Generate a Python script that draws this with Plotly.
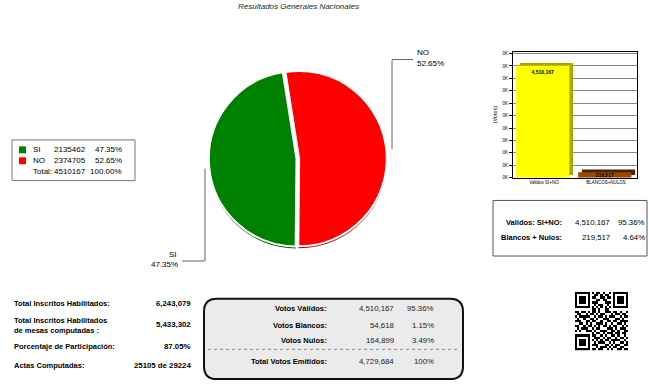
import plotly.graph_objects as go

W, H = 649, 392

# ---------------- data ----------------
title_text = "Resultados Generales Nacionales"
pie_labels = ["NO", "SI"]
pie_votes = [2374705, 2135462]
pie_pcts = ["52.65%", "47.35%"]
pie_colors = ["#ff0000", "#008000"]
pie_shadow = ["#b00000", "#005500"]
total_valid = 4510167

bar_cats = ["Validos SI+NO", "BLANCOS+NULOS"]
bar_vals = [4510167, 219517]
bar_pcts = ["95.36%", "4.64%"]
bar_colors = ["#ffff00", "#9a4a00"]
bar_side = ["#a8a800", "#4a2200"]
bar_ticks = [0, 500000, 1000000, 1500000, 2000000, 2500000, 3000000,
             3500000, 4000000, 4500000, 5000000]
bar_ticktext = ["0K"] * 11

summary_labels = ["Validos: SI+NO:", "Blancos + Nulos:"]

left_labels = ["Total Inscritos Habilitados:",
               "Total Inscritos Habilitados<br>de mesas computadas :",
               "Porcentaje de Participación:", "Actas Computadas:"]
left_values = ["6,243,079", "5,433,302", "87.05%", "25105 de 29224"]

box_labels = ["Votos Válidos:", "Votos Blancos:", "Votos Nulos:", "Total Votos Emitidos:"]
box_values = ["4,510,167", "54,618", "164,899", "4,729,684"]
box_pcts = ["95.36%", "1.15%", "3.49%", "100%"]

qr_rows = [
    "1111111" + "0" + "101101001" + "0" + "1111111",
    "1000001" + "0" + "011010110" + "0" + "1000001",
    "1011101" + "0" + "110011011" + "0" + "1011101",
    "1011101" + "0" + "001101100" + "0" + "1011101",
    "1011101" + "0" + "111000111" + "0" + "1011101",
    "1000001" + "0" + "010110010" + "0" + "1000001",
    "1111111" + "0" + "101010101" + "0" + "1111111",
    "00000000" + "110100110" + "00000000",
    "1101101011010011101101001",
    "0110010110101100010110110",
    "1011111001011010111001011",
    "0100100110100111000110100",
    "1110011011001001101101111",
    "0011010100111010010011010",
    "1100101101010110101100101",
    "0101110010110001110101110",
    "1010011101001110011010011",
    "00000000" + "101101011" + "10110110",
    "1111111" + "0" + "110010100" + "11010010",
    "1000001" + "0" + "011101011" + "00101101",
    "1011101" + "0" + "101010110" + "11110010",
    "1011101" + "0" + "010111001" + "01001101",
    "1011101" + "0" + "111000110" + "10110011",
    "1000001" + "0" + "001011101" + "01101100",
    "1111111" + "0" + "110110010" + "10011011",
]
qr_z = [[int(c) for c in r[:25].ljust(25, "0")] for r in qr_rows]

# ---------------- helpers ----------------
FONT = "Arial, Liberation Sans, sans-serif"


def px(x):
    return x / W


def py(y):
    return 1 - y / H


annotations = []
shapes = []


def ann(x, y, text, anchor="left", size=7.5, bold=False, italic=False, color="#000"):
    if bold:
        text = "<b>" + text + "</b>"
    if italic:
        text = "<i>" + text + "</i>"
    annotations.append(dict(x=px(x), y=py(y), xref="paper", yref="paper", text=text,
                            showarrow=False, xanchor=anchor, yanchor="middle",
                            align=anchor if anchor != "center" else "center",
                            font=dict(family=FONT, size=size, color=color)))


def line(x0, y0, x1, y1, color="#666", width=1, dash="solid"):
    shapes.append(dict(type="line", xref="paper", yref="paper", x0=px(x0), y0=py(y0),
                       x1=px(x1), y1=py(y1), line=dict(color=color, width=width, dash=dash)))


def rect(x0, y0, x1, y1, fill=None, color="#777", width=1):
    shapes.append(dict(type="rect", xref="paper", yref="paper", x0=px(x0), y0=py(y0),
                       x1=px(x1), y1=py(y1), fillcolor=fill or "rgba(0,0,0,0)",
                       line=dict(color=color, width=width), layer="below"))


fig = go.Figure()

# ---------------- pie ----------------
pie_dom_x = [px(205.5), px(387.5)]
fig.add_trace(go.Pie(labels=pie_labels, values=pie_votes, sort=False, direction="clockwise",
                     rotation=-9, pull=[0.03, 0], textinfo="none", hoverinfo="skip",
                     marker=dict(colors=pie_shadow, line=dict(color="white", width=0)),
                     domain=dict(x=pie_dom_x, y=[py(253), py(71)]), showlegend=False))
fig.add_trace(go.Pie(labels=pie_labels, values=pie_votes, sort=False, direction="clockwise",
                     rotation=-9, pull=[0.03, 0], textinfo="none", hoverinfo="label+value",
                     marker=dict(colors=pie_colors, line=dict(color="white", width=2)),
                     domain=dict(x=pie_dom_x, y=[py(251), py(69)]), showlegend=False))

# leader lines
line(392, 150, 392, 60)
line(392, 60, 413, 60)
ann(415, 53, pie_labels[0], size=8)
ann(415, 64, pie_pcts[0], size=8)
line(205, 170, 205, 263)
line(205, 263, 182, 263)
ann(179, 256, pie_labels[1], anchor="right", size=8)
ann(180, 267, pie_pcts[1], anchor="right", size=8)

# ---------------- legend box ----------------
rect(12, 141, 135, 182, color="#777")
legend_rows = [(1, 151), (0, 162)]
for idx, yy in legend_rows:
    shapes.append(dict(type="rect", xref="paper", yref="paper", x0=px(19), x1=px(26),
                       y0=py(yy + 3.5), y1=py(yy - 3.5), fillcolor=pie_colors[idx],
                       line=dict(width=0)))
    ann(31, yy, pie_labels[idx], size=8)
    ann(88, yy, str(pie_votes[idx]), anchor="right", size=8)
    ann(124, yy, pie_pcts[idx], anchor="right", size=8)
ann(31, 173, "Total:", size=8)
ann(88, 173, str(total_valid), anchor="right", size=8)
ann(124, 173, "100.00%", anchor="right", size=8)

# ---------------- bar chart ----------------
ymax = 5080000
depth = 110000
fig.add_trace(go.Bar(x=bar_cats, y=bar_vals, base=[depth, depth], width=0.86,
                     offset=-0.39, marker=dict(color=bar_side, line=dict(width=0)),
                     xaxis="x2", yaxis="y2", hoverinfo="skip", showlegend=False))
fig.add_trace(go.Bar(x=bar_cats, y=bar_vals, width=0.86, offset=-0.45,
                     marker=dict(color=bar_colors, line=dict(width=0)),
                     text=[f"{v:,}" for v in bar_vals], textposition="inside",
                     insidetextanchor="end", constraintext="none",
                     textfont=dict(family=FONT, size=5, color="#000"),
                     texttemplate="<b>%{text}</b>",
                     xaxis="x2", yaxis="y2", showlegend=False))

# ---------------- summary box ----------------
rect(493, 202, 647, 258, color="#555")
for i, yy in enumerate([224, 239]):
    ann(564, yy, summary_labels[i], anchor="right", size=7.5, bold=True)
    ann(612, yy, f"{bar_vals[i]:,}", anchor="right", size=7.8)
    ann(647, yy, bar_pcts[i], anchor="right", size=7.8)

# ---------------- bottom-left text ----------------
left_y = [306, 327, 349, 368]
for i, yy in enumerate(left_y):
    if i == 1:
        ann(12, 323, "Total Inscritos Habilitados", size=7.5, bold=True)
        ann(12, 333, "de mesas computadas :", size=7.5, bold=True)
    else:
        ann(12, yy, left_labels[i], size=7.5, bold=True)
    ann(193, yy, left_values[i], anchor="right", size=7.8, bold=True)

# ---------------- rounded votes box ----------------
x0, y0, x1, y1, r = px(204), py(301), px(463), py(382), 13
rx, ry = r / W, r / H
path = (f"M {x0+rx},{y0} L {x1-rx},{y0} Q {x1},{y0} {x1},{y0-ry} "
        f"L {x1},{y1+ry} Q {x1},{y1} {x1-rx},{y1} L {x0+rx},{y1} "
        f"Q {x0},{y1} {x0},{y1+ry} L {x0},{y0-ry} Q {x0},{y0} {x0+rx},{y0} Z")
shapes.append(dict(type="path", xref="paper", yref="paper", path=path,
                   fillcolor="#ebebeb", line=dict(color="#111", width=2), layer="below"))
box_y = [311, 328, 343, 364]
for i, yy in enumerate(box_y):
    ann(329, yy, box_labels[i], anchor="right", size=7.5, bold=True)
    ann(396, yy, box_values[i], anchor="right", size=7.8, color="#222")
    ann(436, yy, box_pcts[i], anchor="right", size=7.8, color="#222")
line(208, 352, 460, 352, color="#888", width=1, dash="dot")

# ---------------- QR ----------------
fig.add_trace(go.Heatmap(z=qr_z, colorscale=[[0, "white"], [1, "black"]], showscale=False,
                         xaxis="x3", yaxis="y3", hoverinfo="skip"))

# ---------------- title ----------------
ann(298, 7, title_text, anchor="center", size=8, italic=True, color="#222")

fig.update_layout(
    width=W, height=H, margin=dict(l=0, r=0, t=0, b=0),
    paper_bgcolor="white", plot_bgcolor="white", showlegend=False,
    barmode="overlay", font=dict(family=FONT),
    annotations=annotations, shapes=shapes,
    xaxis2=dict(domain=[px(513), px(637)], anchor="y2", type="category",
                showline=True, mirror=True, linecolor="#000", linewidth=1,
                ticks="", tickfont=dict(family=FONT, size=4.5, color="#000"),
                showgrid=False, zeroline=False, fixedrange=True),
    yaxis2=dict(domain=[py(179), py(52)], anchor="x2", range=[0, ymax],
                tickvals=bar_ticks, ticktext=bar_ticktext,
                tickfont=dict(family=FONT, size=4.5, color="#000"),
                showline=True, mirror=True, linecolor="#000", linewidth=1,
                ticks="outside", ticklen=3, tickcolor="#000",
                showgrid=True, gridcolor="#888", gridwidth=0.6, zeroline=False,
                title=dict(text="(Votos)", font=dict(family=FONT, size=5.5, color="#000"),
                           standoff=4), fixedrange=True),
    xaxis3=dict(domain=[px(575), px(628)], anchor="y3", visible=False, fixedrange=True),
    yaxis3=dict(domain=[py(353), py(294)], anchor="x3", visible=False,
                autorange="reversed", fixedrange=True),
)

fig.write_html("out.html", config={"displayModeBar": False},
               post_script="document.body.style.margin='0';document.body.style.padding='0';")
